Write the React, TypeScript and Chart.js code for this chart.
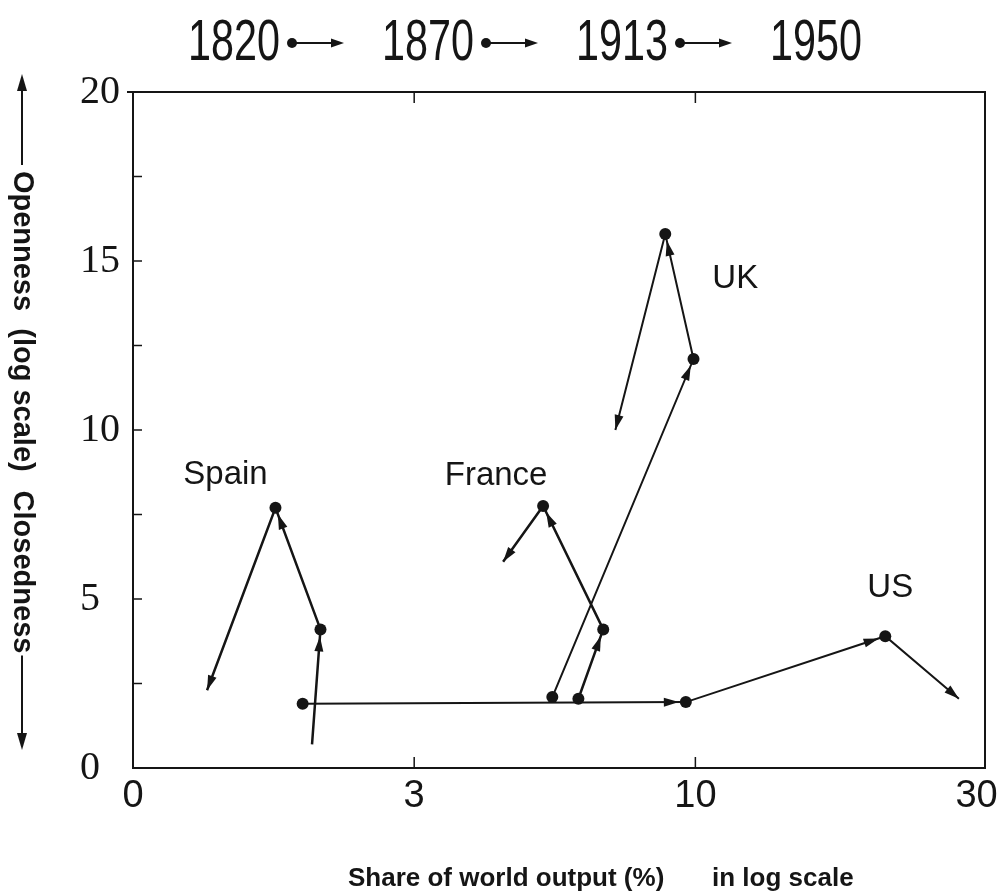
import React, { useEffect, useRef } from "react";
import { Chart, registerables } from "chart.js";
Chart.register(...registerables);

// ---- data ----
const years = ["1820", "1870", "1913", "1950"];
const xTickValues = [0, 3, 10, 30]; // share of world output (%), drawn equally spaced ("log scale")
const yTickValues = [0, 5, 10, 15, 20];
const countryNames = ["US", "Spain", "France", "UK"];
const usShare = [1.81, 9.6, 21.0, 28.0];
const usOpenness = [1.9, 1.95, 3.9, 2.05];
const spainShare = [1.91, 2.0, 1.52, 0.79];
const spainOpenness = [0.7, 4.1, 7.7, 2.3];
const franceShare = [6.06, 6.74, 5.21, 4.39];
const franceOpenness = [2.05, 4.1, 7.75, 6.1];
const ukShare = [5.42, 9.92, 8.79, 7.1];
const ukOpenness = [2.1, 12.1, 15.8, 10.0];

// map a share value onto the (equally spaced) tick index axis
function toPos(v: number): number {
  for (let i = 0; i < xTickValues.length - 1; i++) {
    const lo = xTickValues[i];
    const hi = xTickValues[i + 1];
    if (v <= hi || i === xTickValues.length - 2) {
      if (lo <= 0) return i + (v - lo) / (hi - lo);
      return i + Math.log(v / lo) / Math.log(hi / lo);
    }
  }
  return 0;
}

const INK = "#151515";
const DOT = 6;

const seriesList = [
  { name: countryNames[0], share: usShare, open: usOpenness, radii: [DOT, DOT, DOT, 0], width: 2, label: { idx: 2, dx: 5, dy: -48 } },
  { name: countryNames[1], share: spainShare, open: spainOpenness, radii: [0, DOT, DOT, 0], width: 2.5, label: { idx: 2, dx: -50, dy: -33 } },
  { name: countryNames[2], share: franceShare, open: franceOpenness, radii: [DOT, DOT, DOT, 0], width: 2.5, label: { idx: 2, dx: -47, dy: -30 } },
  { name: countryNames[3], share: ukShare, open: ukOpenness, radii: [DOT, DOT, DOT, 0], width: 2, label: { idx: 2, dx: 70, dy: 45 } },
];

function arrowHead(ctx: CanvasRenderingContext2D, tx: number, ty: number, ux: number, uy: number, len: number, half: number) {
  const bx = tx - ux * len;
  const by = ty - uy * len;
  ctx.beginPath();
  ctx.moveTo(tx, ty);
  ctx.lineTo(bx - uy * half, by + ux * half);
  ctx.lineTo(bx + uy * half, by - ux * half);
  ctx.closePath();
  ctx.fill();
}

const decorPlugin = {
  id: "decor",
  afterDatasetsDraw(chart: any) {
    const ctx: CanvasRenderingContext2D = chart.ctx;
    const { left, right, top, bottom } = chart.chartArea;
    const xs = chart.scales.x;
    const ys = chart.scales.y;
    ctx.save();
    ctx.fillStyle = INK;
    ctx.strokeStyle = INK;

    // arrowheads on each segment
    chart.data.datasets.forEach((ds: any, di: number) => {
      const pts = chart.getDatasetMeta(di).data;
      for (let i = 1; i < pts.length; i++) {
        const a = pts[i - 1];
        const b = pts[i];
        const dx = b.x - a.x;
        const dy = b.y - a.y;
        const L = Math.hypot(dx, dy);
        const ux = dx / L;
        const uy = dy / L;
        const r = ds.pointRadius[i];
        const off = r > 0 ? r + 1 : 0;
        arrowHead(ctx, b.x - ux * off, b.y - uy * off, ux, uy, 15, 4.5);
      }
    });

    // country labels
    ctx.font = "33px 'Liberation Sans', Arial, sans-serif";
    ctx.textAlign = "center";
    ctx.textBaseline = "middle";
    seriesList.forEach((s, di) => {
      const p = chart.getDatasetMeta(di).data[s.label.idx];
      ctx.fillText(s.name, p.x + s.label.dx, p.y + s.label.dy);
    });

    // frame: top and right borders
    ctx.lineWidth = 2;
    ctx.beginPath();
    ctx.moveTo(left - 6, top);
    ctx.lineTo(right, top);
    ctx.lineTo(right, bottom);
    ctx.stroke();

    // inward ticks on y axis (major and minor)
    ctx.lineWidth = 1.5;
    for (let v = 0; v <= 20; v += 2.5) {
      const y = ys.getPixelForValue(v);
      ctx.beginPath();
      ctx.moveTo(left, y);
      ctx.lineTo(left + 9, y);
      ctx.stroke();
    }
    // inward ticks on x axis (bottom and top)
    for (let i = 1; i < xTickValues.length - 1; i++) {
      const x = xs.getPixelForValue(i);
      ctx.beginPath();
      ctx.moveTo(x, bottom);
      ctx.lineTo(x, bottom - 11);
      ctx.moveTo(x, top);
      ctx.lineTo(x, top + 11);
      ctx.stroke();
    }

    // headline: 1820 •→ 1870 •→ 1913 •→ 1950
    ctx.font = "58px 'Liberation Sans', Arial, sans-serif";
    ctx.textAlign = "left";
    ctx.textBaseline = "alphabetic";
    const numW = 92;
    const measured = ctx.measureText(years[0]).width;
    const sx = numW / measured;
    let x = 188;
    const base = 60;
    const mid = 43;
    years.forEach((yr, i) => {
      ctx.save();
      ctx.translate(x, base);
      ctx.scale(sx, 1);
      ctx.fillText(yr, 0, 0);
      ctx.restore();
      if (i < years.length - 1) {
        const dotX = x + numW + 12;
        ctx.beginPath();
        ctx.arc(dotX, mid, 5, 0, Math.PI * 2);
        ctx.fill();
        ctx.lineWidth = 2;
        ctx.beginPath();
        ctx.moveTo(dotX, mid);
        ctx.lineTo(dotX + 42, mid);
        ctx.stroke();
        arrowHead(ctx, dotX + 52, mid, 1, 0, 13, 4.5);
      }
      x += 194;
    });

    // x axis title
    ctx.font = "bold 26px 'Liberation Sans', Arial, sans-serif";
    ctx.textAlign = "left";
    ctx.textBaseline = "alphabetic";
    ctx.fillText("Share of world output (%)", 348, 886);
    ctx.fillText("in log scale", 712, 886);

    // y axis title, rotated to read downward, with arrows
    const tx = 22;
    ctx.save();
    ctx.translate(tx, 0);
    ctx.rotate(Math.PI / 2);
    ctx.font = "bold 29px 'Liberation Sans', Arial, sans-serif";
    ctx.textAlign = "center";
    ctx.textBaseline = "middle";
    const parts = ["Openness", "(log scale)", "Closedness"];
    const centers = [241, 400, 572];
    parts.forEach((p, i) => ctx.fillText(p, centers[i], 0));
    const firstStart = centers[0] - ctx.measureText(parts[0]).width / 2;
    const lastEnd = centers[2] + ctx.measureText(parts[2]).width / 2;
    ctx.restore();
    ctx.lineWidth = 2;
    ctx.beginPath();
    ctx.moveTo(tx, firstStart - 6);
    ctx.lineTo(tx, 88);
    ctx.moveTo(tx, lastEnd + 2);
    ctx.lineTo(tx, 736);
    ctx.stroke();
    arrowHead(ctx, tx, 74, 0, -1, 17, 5);
    arrowHead(ctx, tx, 750, 0, 1, 17, 5);

    ctx.restore();
  },
};

export default function App() {
  const canvasRef = useRef<HTMLCanvasElement | null>(null);

  useEffect(() => {
    const canvas = canvasRef.current;
    if (!canvas) return;
    const datasets = seriesList.map((s) => ({
      label: s.name,
      data: s.share.map((v, i) => ({ x: toPos(v), y: s.open[i] })),
      showLine: true,
      borderColor: INK,
      borderWidth: s.width,
      pointRadius: s.radii,
      pointBackgroundColor: INK,
      pointBorderColor: INK,
      pointBorderWidth: 0,
      tension: 0,
    }));
    const chart = new Chart(canvas, {
      type: "scatter",
      data: { datasets },
      plugins: [decorPlugin],
      options: {
        animation: false,
        responsive: false,
        devicePixelRatio: 1,
        layout: { padding: { left: 80, top: 92, right: 15, bottom: 0 } },
        plugins: { legend: { display: false }, tooltip: { enabled: false } },
        scales: {
          x: {
            type: "linear",
            min: 0,
            max: 3.03,
            afterFit: (s: any) => {
              s.height = 127;
              s.paddingLeft = 0;
              s.paddingRight = 0;
            },
            afterBuildTicks: (s: any) => {
              s.ticks = xTickValues.map((_, i) => ({ value: i }));
            },
            grid: { display: false, drawTicks: false },
            border: { display: true, color: INK, width: 2 },
            ticks: {
              padding: 6,
              color: INK,
              font: { family: "'Liberation Sans Narrow', 'Liberation Sans', sans-serif", size: 38 },
              callback: (v: any) => String(xTickValues[Math.round(Number(v))]),
            },
          },
          y: {
            type: "linear",
            min: 0,
            max: 20,
            afterFit: (s: any) => {
              s.width = 53;
              s.paddingTop = 0;
              s.paddingBottom = 0;
            },
            afterBuildTicks: (s: any) => {
              s.ticks = yTickValues.map((v) => ({ value: v }));
            },
            grid: { display: false, drawTicks: false },
            border: { display: true, color: INK, width: 2 },
            ticks: {
              crossAlign: "far",
              color: INK,
              font: { family: "'Liberation Serif', 'Times New Roman', serif", size: 40 },
            },
          },
        },
      },
    });
    return () => chart.destroy();
  }, []);

  return (
    <div style={{ position: "fixed", left: 0, top: 0, width: 1000, height: 895, background: "#fff" }}>
      <canvas ref={canvasRef} width={1000} height={895} />
    </div>
  );
}
